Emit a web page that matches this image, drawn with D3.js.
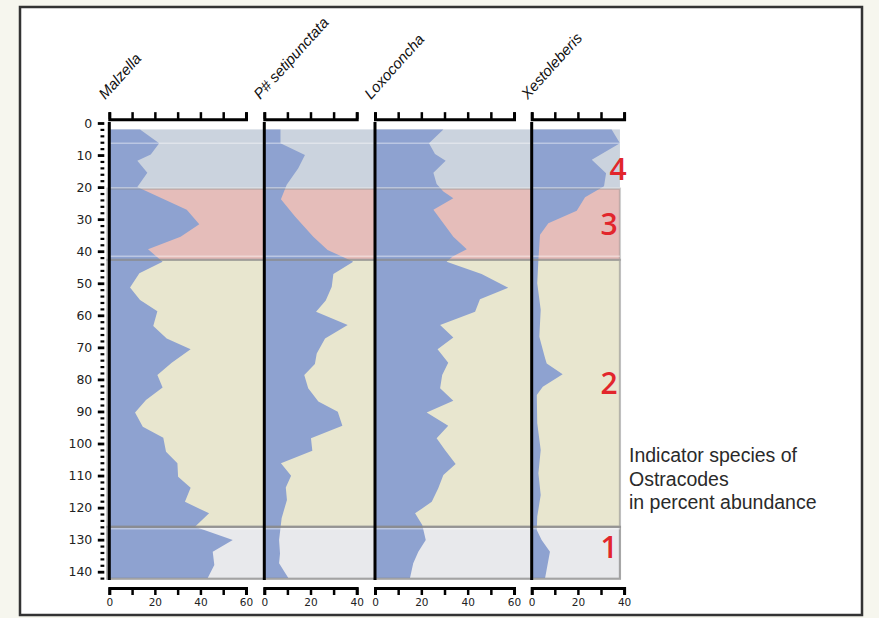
<!DOCTYPE html>
<html>
<head>
<meta charset="utf-8">
<script src="https://cdn.jsdelivr.net/npm/d3@7"></script>
<style>
  html, body { margin: 0; padding: 0; background: #F6F6EE; }
  svg { display: block; }
</style>
</head>
<body>
<svg width="879" height="618"></svg>
<script>
// species shown, and the top of each percent scale
const species = ['Malzella', 'P# setipunctata', 'Loxoconcha', 'Xestoleberis'];
const speciesMax = [60, 40, 60, 40];

// [depth, percent abundance]
const malzella = [[2,13.5],[6.3,21.9],[9.8,18.2],[11.8,12.3],[15.5,16.7],[20,12.3],[27.1,34],[31.6,39.5],[35.5,31.3],[39.4,17],[43.3,23.4],[46.9,13.2],[51.3,9.1],[55.2,13.5],[58.7,21.1],[63.3,19.3],[67.2,25.2],[70.6,35.7],[74.8,27.4],[78.6,21.1],[82.5,23.4],[86.4,16.1],[90.3,11.3],[94.8,14.7],[98.2,23.7],[102.6,24.9],[106.2,29.9],[110.4,30.2],[113.8,35.7],[118.2,33.2],[121.8,43.8],[126,37.6],[130.1,54.2],[133.8,45.4],[137.9,46.1],[142,43.2]];
const setipunctata = [[2,7],[6.3,7],[10,17.6],[14.1,14.7],[19.3,9.7],[23.8,7.2],[29.2,13.3],[35.5,21.2],[39.6,27.4],[43.3,38.5],[47.1,29.9],[51.1,29.2],[55.4,26.6],[58.9,22.4],[63,36.1],[67.2,26.3],[71.9,22.7],[75.2,21.9],[78.6,17.3],[82.8,19],[86.9,23.4],[90.1,31.8],[94.5,33.8],[98.4,20.2],[102.3,20.8],[106.2,7.2],[110.1,11.6],[113.7,9.3],[117.6,9.8],[123.3,7.5],[130.1,6.4],[134.3,6.8],[137.4,6.4],[142,10.4]];
const loxoconcha = [[2,29.5],[6.3,23.3],[9.7,25.9],[11.8,30.5],[15.5,25.2],[19,26.6],[21.4,29.5],[23.5,33.8],[27.1,25.2],[35.5,33.8],[39.4,39.6],[41.7,33.4],[43.3,30.9],[47.1,46],[51.4,57.5],[55,45.3],[58.9,43.2],[63,28.1],[66.9,33.8],[70.6,27],[74.8,31.6],[78.6,29],[82.8,28.1],[86.7,33.8],[90.3,22.3],[94.5,31.6],[98.4,26.6],[102,30.2],[106.4,34.8],[109.8,29.5],[114,27.3],[118.2,24.5],[121.8,17.3],[125.4,20.4],[130.1,21.9],[133.8,18.7],[137.4,16.5],[142,15.1]];
const xestoleberis = [[2,34.6],[6.3,38.2],[11.5,26],[15.7,32.2],[19.7,31.3],[23.2,23.1],[27.4,19.5],[31.3,7.2],[34.9,3.6],[42.7,2.9],[50,2.4],[58.3,3.9],[66.7,3.3],[73.4,5.8],[75,6.5],[78.4,13.4],[82.3,4.8],[84.9,2.2],[93.7,2.4],[102,3.9],[109.3,2.9],[116.1,3.9],[122.8,2.4],[127,2.2],[130.1,4.3],[133.8,7.9],[142,5.8]];
const profiles = [malzella, setipunctata, loxoconcha, xestoleberis];

// depth axis ticks
const depthMajor = d3.range(0, 141, 10);
const depthMinor = d3.range(0, 143, 2).filter(d => d % 10 !== 0);

// zones (numbered from the bottom), depth limits
const zoneNames = ['4', '3', '2', '1'];
const zoneTop = [2, 20.5, 42.7, 126];
const zoneBottom = [20.5, 42.7, 126, 142.2];
const zoneLabelDepth = [14.4, 31.5, 81.3, 132.5];
const zoneFill = ['#CBD3DE', '#E5BDBA', '#E8E6CF', '#E8E9EC'];
const thinLineDepth = [6.3, 20.2, 41.6, 126.6];

const noteLines = ['Indicator species of', 'Ostracodes', 'in percent abundance'];

// layout
var svg = d3.select('svg');
var panelLeft = [109.3, 264.3, 375, 531.7];
var pxPerUnit = [2.278, 2.31, 2.317, 2.31];
var blue = '#8EA2D0';

var y = d3.scaleLinear().domain([0, 140]).range([123, 571.7]);
var xs = species.map((s, i) =>
  d3.scaleLinear().domain([0, speciesMax[i]]).range([panelLeft[i], panelLeft[i] + speciesMax[i] * pxPerUnit[i]]));

// frame
svg.append('rect')
  .attr('x', 20).attr('y', 7).attr('width', 842).attr('height', 608)
  .attr('fill', '#fff').attr('stroke', '#333').attr('stroke-width', 2.5);

var zoneX0 = xs[0](0);
var zoneX1 = xs[3](38.2);

// zone backgrounds
svg.selectAll('rect.zone')
  .data(zoneNames)
  .enter()
  .append('rect')
  .attr('class', 'zone')
  .attr('x', zoneX0)
  .attr('width', zoneX1 - zoneX0)
  .attr('y', (d, i) => y(zoneTop[i]))
  .attr('height', (d, i) => y(zoneBottom[i]) - y(zoneTop[i]))
  .attr('fill', (d, i) => zoneFill[i]);

// abundance profiles
profiles.forEach((prof, i) => {
  var area = d3.area()
    .y(d => y(d[0]))
    .x0(xs[i](0))
    .x1(d => xs[i](d[1]));
  svg.append('path').datum(prof).attr('d', area).attr('fill', blue);
});

// zone outlines (over the profiles, half see-through)
svg.selectAll('rect.zoneline')
  .data(zoneNames.slice(1))
  .enter()
  .append('rect')
  .attr('x', zoneX0 - 2)
  .attr('width', zoneX1 - zoneX0 + 2)
  .attr('y', (d, i) => y(zoneTop[i + 1]))
  .attr('height', (d, i) => y(zoneBottom[i + 1]) - y(zoneTop[i + 1]))
  .attr('fill', 'none')
  .attr('stroke', '#8a8a8a')
  .attr('stroke-opacity', (d, i) => [0.4, 0.55, 0.75][i])
  .attr('stroke-width', 2.2);

svg.selectAll('line.thin')
  .data(thinLineDepth)
  .enter()
  .append('line')
  .attr('x1', zoneX0).attr('x2', zoneX1)
  .attr('y1', d => y(d)).attr('y2', d => y(d))
  .attr('stroke', '#fff').attr('stroke-opacity', 0.4).attr('stroke-width', 1.5);

// zero lines
svg.selectAll('line.zero')
  .data(species)
  .enter()
  .append('line')
  .attr('x1', (d, i) => xs[i](0)).attr('x2', (d, i) => xs[i](0))
  .attr('y1', y(-0.3)).attr('y2', y(142.6))
  .attr('stroke', '#000').attr('stroke-width', 3);

// top and bottom percent axes
species.forEach((s, i) => {
  var tv = d3.range(0, speciesMax[i] + 1, 10);
  var top = svg.append('g')
    .attr('transform', `translate(0,${y(-1.2)})`)
    .call(d3.axisTop(xs[i]).tickValues(tv).tickSize(7).tickFormat(''));
  top.select('.domain').attr('stroke-width', 3);
  top.selectAll('.tick line').attr('stroke-width', 2.5);

  var bot = svg.append('g')
    .attr('transform', 'translate(0,588)')
    .call(d3.axisBottom(xs[i]).tickValues(tv).tickSize(7).tickPadding(4)
      .tickFormat(d => d % 20 === 0 ? d : ''));
  bot.select('.domain').attr('stroke-width', 3);
  bot.selectAll('.tick line').attr('stroke-width', 2.5);
  bot.selectAll('text')
    .style('font-family', '"DejaVu Sans", sans-serif')
    .style('font-size', '10.5px')
    .attr('fill', '#222');
});

// depth axis
var dg = svg.append('g').attr('transform', 'translate(104.3,0)')
  .call(d3.axisLeft(y).tickValues(depthMajor).tickSize(6.5).tickPadding(5.5));
dg.select('.domain').remove();
dg.selectAll('.tick line').attr('stroke-width', 2.8);
dg.selectAll('text')
  .style('font-family', '"DejaVu Sans", sans-serif')
  .style('font-size', '12.5px')
  .attr('fill', '#222');

var dm = svg.append('g').attr('transform', 'translate(104.3,0)')
  .call(d3.axisLeft(y).tickValues(depthMinor).tickSize(3.8).tickFormat(''));
dm.select('.domain').remove();
dm.selectAll('.tick line').attr('stroke-width', 2.2);

// species names
svg.selectAll('text.species')
  .data(species)
  .enter()
  .append('text')
  .attr('transform', (d, i) => `translate(${xs[i](0) - 4},100) rotate(-48)`)
  .style('font-family', '"Liberation Sans", Arial, sans-serif')
  .style('font-style', 'italic')
  .style('font-size', '15px')
  .attr('fill', '#111')
  .text(d => d);

// zone numbers
svg.selectAll('text.zonelabel')
  .data(zoneNames)
  .enter()
  .append('text')
  .attr('x', (d, i) => xs[3](i === 0 ? 37.4 : 33.5))
  .attr('y', (d, i) => y(zoneLabelDepth[i]) + 10.7)
  .attr('text-anchor', 'middle')
  .style('font-family', '"Open Sans", sans-serif')
  .style('font-weight', 600)
  .style('font-size', '30px')
  .attr('fill', '#E2262C')
  .text(d => d);

// note on the right
svg.append('text')
  .attr('x', 629)
  .attr('y', 462)
  .style('font-family', '"Liberation Sans", Arial, sans-serif')
  .style('font-size', '19.5px')
  .attr('fill', '#2a2a2a')
  .selectAll('tspan')
  .data(noteLines)
  .enter()
  .append('tspan')
  .attr('x', 629)
  .attr('dy', (d, i) => i === 0 ? 0 : 23.5)
  .text(d => d);
</script>
</body>
</html>
